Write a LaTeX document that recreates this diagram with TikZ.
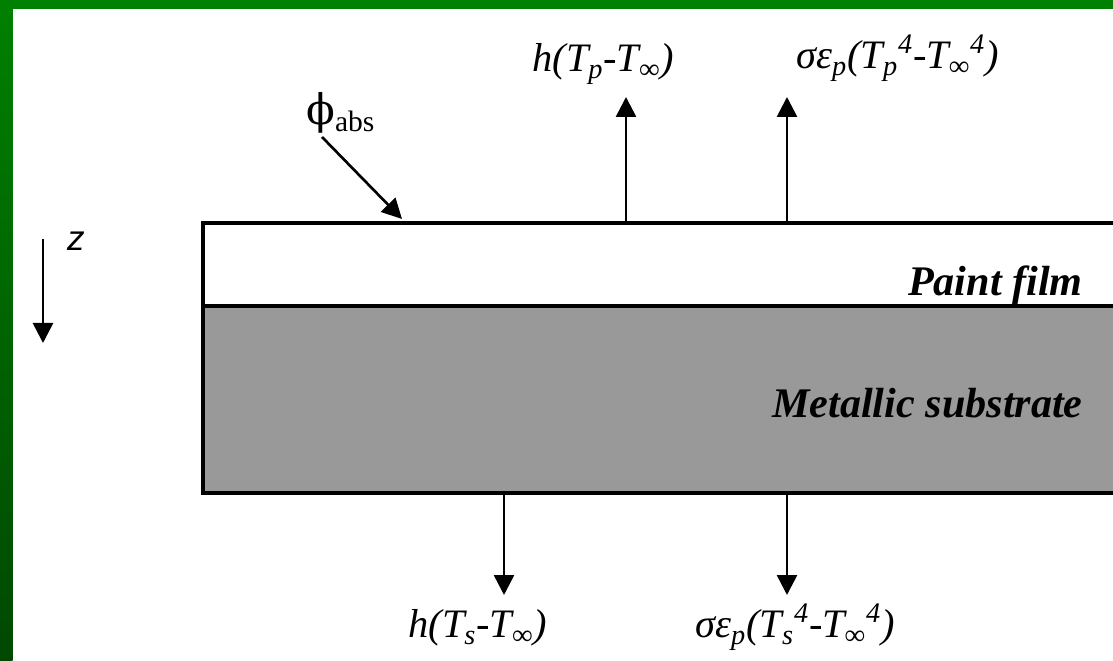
\documentclass[tikz,border=0pt]{standalone}
\usepackage{fontspec}
\setmainfont{Liberation Serif}
\newfontfamily\axisfont{Liberation Sans}
\newfontfamily\phifont{DejaVu Serif}
\usetikzlibrary{arrows.meta,positioning}
\definecolor{framegreen}{RGB}{0,128,0}
\definecolor{framedark}{RGB}{0,72,0}
\definecolor{substrategray}{RGB}{153,153,153}
\tikzset{
  layer/.style     = {rectangle, draw=black, line width=2.2pt, inner sep=0pt,
                      anchor=north west},
  flux/.style      = {font=\fontsize{23}{27}\selectfont\itshape, inner sep=0pt,
                      anchor=base west},
  layername/.style = {font=\fontsize{24}{28}\selectfont\bfseries\itshape,
                      inner sep=0pt, anchor=base east},
  farr/.style      = {-{Triangle[length=0.4cm, width=0.4cm]}, line width=1.5pt},
}

\begin{document}
\begin{tikzpicture}[x=0.02cm, y=-0.02cm]
\clip (0,0) rectangle (1113,661);
\fill[white] (0,0) rectangle (1113,661);

%% ── Frame ─────────────────────────────────────────────────────────────────
\fill[framegreen] (0,0) rectangle (1113,9);
\shade[top color=framegreen, bottom color=framedark] (0,0) rectangle (12.5,661);

%% ── Layers ────────────────────────────────────────────────────────────────
\node[layer, fill=substrategray, minimum width=18.8cm, minimum height=3.74cm]
  (substrate) at (201,304) {};
\node[layer, fill=white, minimum width=18.8cm, minimum height=1.66cm]
  (film) at (201,221) {};

\node[layername] (filmname) at (1083,296) {Paint film};
\node[layername] (subname)  at (1083,418) {Metallic substrate};

%% ── Depth axis ────────────────────────────────────────────────────────────
\coordinate (ztop) at (43,239);
\coordinate (zend) at (43,343);
\node[font=\fontsize{20}{24}\selectfont\axisfont\itshape, inner sep=0pt,
      anchor=base] (zname) at (76,251) {z};

%% ── Fluxes ────────────────────────────────────────────────────────────────
\node[font=\fontsize{24}{28}\selectfont, inner sep=0pt, anchor=base west]
  (phi) at (306,125) {{\phifont ϕ}\textsubscript{abs}};
\coordinate (phifrom) at (322,137);
\coordinate (phihit)  at (402,219);

\node[flux] (hp)   at (532,72) {h(T\textsubscript{p}-T\textsubscript{∞})};
\node[flux] (radp) at (796,69)
  {σε\textsubscript{p}(T\textsubscript{p}\textsuperscript{4}-T\textsubscript{∞}\textsuperscript{4})};
\node[flux] (hs)   at (408,638) {h(T\textsubscript{s}-T\textsubscript{∞})};
\node[flux] (rads) at (695,638)
  {σε\textsubscript{p}(T\textsubscript{s}\textsuperscript{4}-T\textsubscript{∞}\textsuperscript{4})};

\coordinate (hptip)   at (626,97);
\coordinate (radptip) at (787,97);
\coordinate (hstip)   at (504,595);
\coordinate (radstip) at (787,595);

%% ── Arrows ────────────────────────────────────────────────────────────────
\draw[farr] (ztop) -- (zend);
\draw[farr] (phifrom) -- (phihit);

\draw[farr] (film.north -| hptip) -- (hptip);
\draw[farr] (film.north -| radptip) -- (radptip);

\draw[farr] (substrate.south -| hstip) -- (hstip);
\draw[farr] (substrate.south -| radstip) -- (radstip);

\end{tikzpicture}
\end{document}
